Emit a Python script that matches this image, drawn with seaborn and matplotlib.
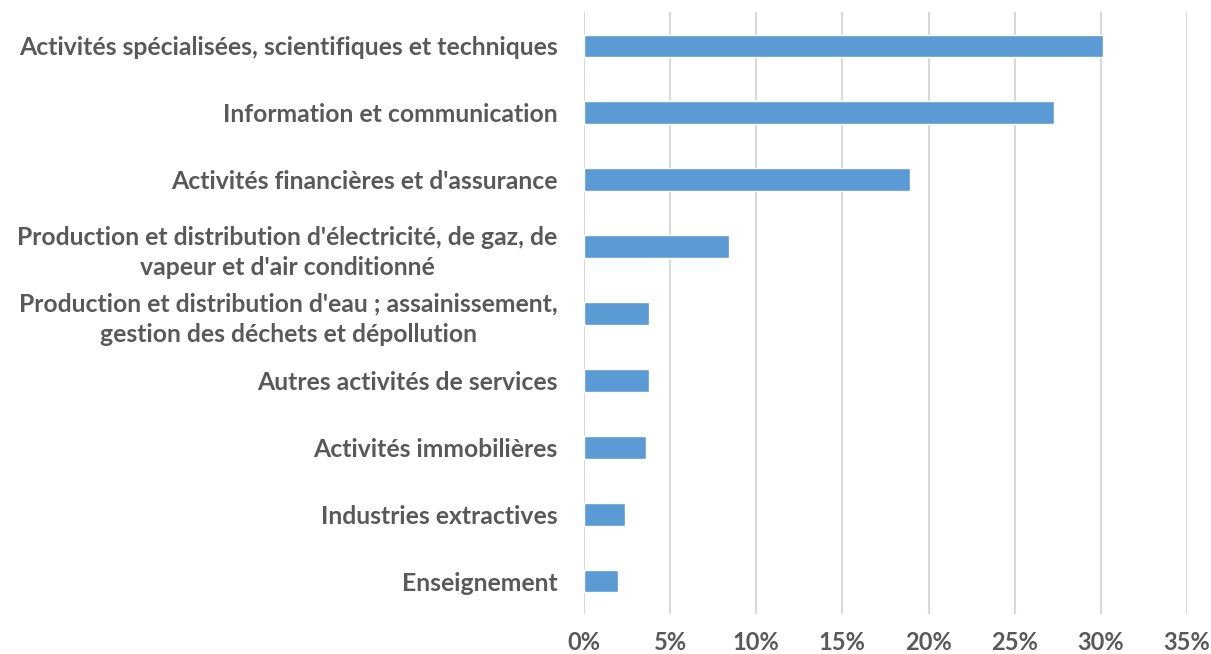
import pandas as pd
import seaborn as sns
import matplotlib.pyplot as plt
from matplotlib.ticker import PercentFormatter

# Sectors and shares
secteurs = [
    "Activités spécialisées, scientifiques et techniques",
    "Information et communication",
    "Activités financières et d'assurance",
    "Production et distribution d'électricité, de gaz, de\nvapeur et d'air conditionné",
    "Production et distribution d'eau ; assainissement,\ngestion des déchets et dépollution",
    "Autres activités de services",
    "Activités immobilières",
    "Industries extractives",
    "Enseignement",
]
parts = [30.1, 27.3, 18.95, 8.4, 3.75, 3.75, 3.6, 2.4, 2.0]
ticks_x = [0, 5, 10, 15, 20, 25, 30, 35]

df = pd.DataFrame({"secteur": secteurs, "part": parts})

sns.set_style("white")
plt.rcParams["font.family"] = ["Lato", "DejaVu Sans"]

fig = plt.figure(figsize=(12.11, 6.54), dpi=100)
ax = fig.add_axes([0.4822, 0.0604, 0.498, 0.9206])

sns.barplot(data=df, x="part", y="secteur", color="#5b9bd5", saturation=1,
            width=0.34, ax=ax, zorder=3)

ax.set_xlim(0, 35)
ax.set_xticks(ticks_x)
ax.xaxis.set_major_formatter(PercentFormatter(decimals=0))
ax.grid(axis="x", color="#d9d9d9", linewidth=1.5, zorder=0)
ax.grid(axis="y", visible=False)
for s in ax.spines.values():
    s.set_visible(False)
ax.set_xlabel("")
ax.set_ylabel("")
ax.tick_params(axis="both", length=0, colors="#595959")
ax.tick_params(axis="y", pad=19)
ax.tick_params(axis="x", pad=12)
for lab in ax.get_yticklabels():
    lab.set_fontsize(17.8)
    lab.set_fontweight("bold")
    lab.set_multialignment("center")
    lab.set_linespacing(1.4)
for lab in ax.get_xticklabels():
    lab.set_fontsize(17)
    lab.set_fontweight("bold")

fig.savefig("out.png", dpi=100)
